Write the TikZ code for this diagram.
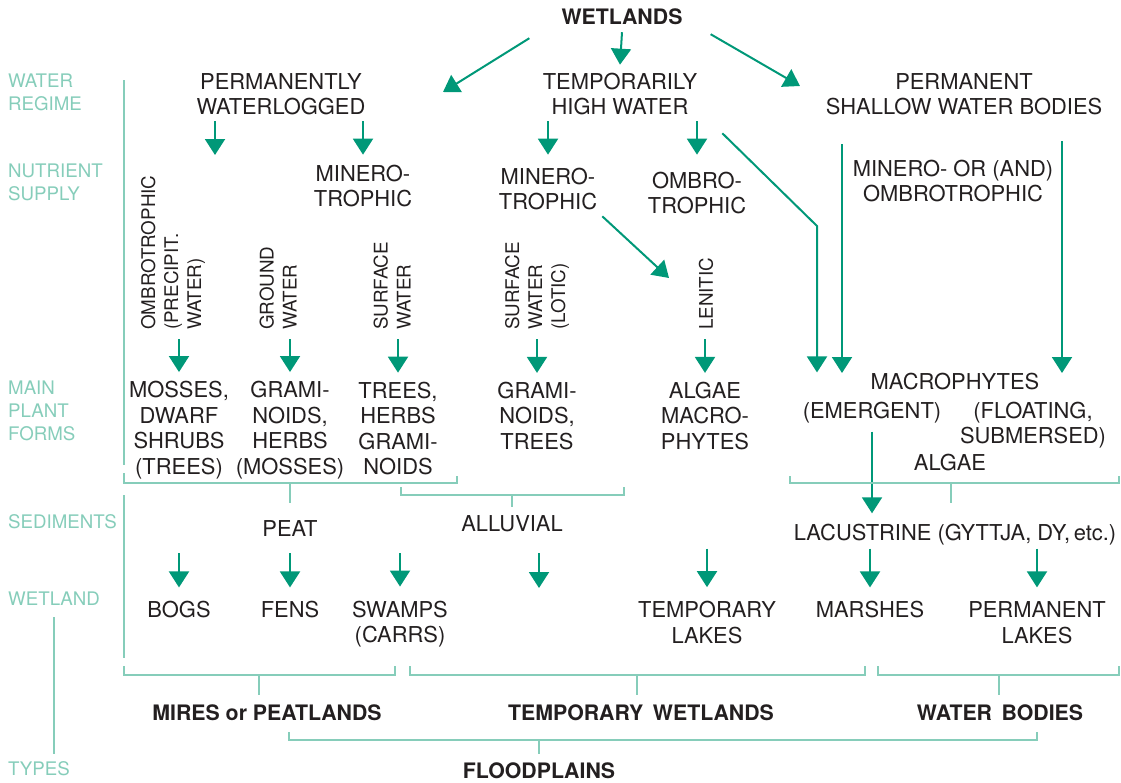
\documentclass[tikz,border=0pt]{standalone}
\usepackage{fontspec}
\setmainfont{TeX Gyre Heros}
\usetikzlibrary{arrows.meta}

\definecolor{flowgreen}{RGB}{0,152,120}
\definecolor{palegreen}{RGB}{134,205,186}
\definecolor{inkblack}{RGB}{35,31,32}

\tikzset{
  lbl/.style={text=inkblack, align=center, inner sep=0pt, font=\fontsize{21.9}{25.5}\selectfont},
  lblv/.style={text=inkblack, align=left, inner sep=0pt, rotate=90, anchor=west, font=\fontsize{18.8}{23}\selectfont},
  grp/.style={text=inkblack, inner sep=0pt, font=\fontsize{21.3}{25.5}\selectfont\bfseries},
  axis/.style={text=palegreen, align=left, inner sep=0pt, anchor=west, font=\fontsize{18.7}{23}\selectfont},
  flow/.style={draw=flowgreen, line width=2pt, -{Triangle[width=20pt,length=16pt]}},
  brace/.style={draw=palegreen, line width=2.2pt},
}

\begin{document}
\begin{tikzpicture}[x=1pt, y=-1pt]
\useasboundingbox (0,0) rectangle (1121,782);

% axis on the left
\node (axreg) at (8,92.5) [axis] {WATER\\REGIME};
\node (axnut) at (8,182.5) [axis] {NUTRIENT\\SUPPLY};
\node (axpla) at (8,411) [axis] {MAIN\\PLANT\\FORMS};
\node (axsed) at (8,522) [axis] {SEDIMENTS};
\node (axwet) at (8,599) [axis] {WETLAND};
\node (axtyp) at (8,769) [axis] {TYPES};
\draw[brace] ([yshift=-11pt]axwet.south) -- ([yshift=8pt]axwet.south |- axtyp.north);

% water regime
\node (wet) at (622,17) [grp] {WETLANDS};
\node (perm) at (281,94) [lbl] {PERMANENTLY\\WATERLOGGED};
\node (temp) at (620,94) [lbl] {TEMPORARILY\\HIGH WATER};
\node (shal) at (964,94) [lbl] {PERMANENT\\SHALLOW WATER BODIES};

% nutrient supply
\node (minA) at (363,186) [lbl] {MINERO-\\TROPHIC};
\node (minB) at (548,189) [lbl] {MINERO-\\TROPHIC};
\node (ombB) at (697,193) [lbl] {OMBRO-\\TROPHIC};
\node (minC) at (953,181) [lbl] {MINERO- OR (AND)\\OMBROTROPHIC};
	\node (precip) at (173,330) [lblv] {OMBROTROPHIC\\(PRECIPIT.\\WATER)};
	\node (ground) at (278,330) [lblv] {GROUND\\WATER};
	\node (surfA) at (392,330) [lblv] {SURFACE\\WATER};
	\node (surfB) at (537,330) [lblv] {SURFACE\\WATER\\(LOTIC)};
	\node (lenit) at (706,330) [lblv] {LENITIC};

% main plant forms
\node (mosses) at (179,430) [lbl] {MOSSES,\\DWARF\\SHRUBS\\(TREES)};
\node (gramA) at (290,430) [lbl] {GRAMI-\\NOIDS,\\HERBS\\(MOSSES)};
\node (trees) at (398,428.5) [lbl] {TREES,\\HERBS\\GRAMI-\\NOIDS};
\node (gramB) at (537,416) [lbl] {GRAMI-\\NOIDS,\\TREES};
\node (algA) at (705,416) [lbl] {ALGAE\\MACRO-\\PHYTES};
\node (macro) at (955,382) [lbl] {MACROPHYTES};
\node (emerg) at (872,413) [lbl] {(EMERGENT)};
\node (float) at (1033,425) [lbl] {(FLOATING,\\SUBMERSED)};
\node (algB) at (950,463) [lbl] {ALGAE};

% sediments
\node (peat) at (290,529) [lbl] {PEAT};
\node (alluv) at (512,524) [lbl] {ALLUVIAL};
\node (lacus) at (955,535) [lbl] {LACUSTRINE (GYTTJA, DY,\,etc.)};

% wetlands
\node (bogs) at (179,610) [lbl] {BOGS};
\node (fens) at (290,610) [lbl] {FENS};
\node (swamps) at (400,624) [lbl] {SWAMPS\\(CARRS)};
\node (tlakes) at (707,622.5) [lbl] {TEMPORARY\\LAKES};
\node (marsh) at (870,610) [lbl] {MARSHES};
\node (plakes) at (1037,622.5) [lbl] {PERMANENT\\LAKES};

% types
\node (mires) at (267,713) [grp] {MIRES or PEATLANDS};
\node (tempw) at (641,713) [grp] {TEMPORARY\hspace{0.45em}WETLANDS};
\node (wbod) at (1000,713) [grp] {WATER\hspace{0.45em}BODIES};
\node (flood) at (539,771) [grp] {FLOODPLAINS};

% free ends
\coordinate (pwtip) at (443,92);
\coordinate (swtip) at (800,86);
\coordinate (ombgrp) at (215,155);
\coordinate (bend) at (817,226);
\coordinate (emtip) at (842,373);
\coordinate (fltip) at (1062,373);
\coordinate (lentip) at (669,278);
\coordinate (alluvtip) at (539,588);

% arrows
\draw[flow] ([yshift=-7pt]wet.south) -- ([yshift=8pt]temp.north);
\draw[flow] ([xshift=-32pt,yshift=-13pt]wet.south west) -- (pwtip);
\draw[flow] ([xshift=28pt,yshift=-9pt]wet.south east) -- (swtip);

\draw[flow] ([yshift=-6pt]perm.south -| ombgrp) -- (ombgrp);
\draw[flow] ([yshift=-6pt]perm.south -| minA) -- ([yshift=10pt]minA.north);
\draw[flow] ([yshift=-6pt]temp.south -| minB) -- ([yshift=13pt]minB.north);
\draw[flow] ([yshift=-6pt]temp.south -| ombB) -- ([yshift=17pt]ombB.north);
\draw[flow] ([xshift=25pt,yshift=-18pt]temp.south east) -- (bend) -- ([yshift=1pt]bend |- macro.north);
\draw[flow] ([yshift=-29pt]shal.south -| emtip) -- (emtip);
\draw[flow] ([yshift=-26pt]shal.south -| fltip) -- (fltip);
\draw[flow] ([xshift=5pt,yshift=-6pt]minB.south east) -- (lentip);

\draw[flow] ([yshift=-9pt]precip.west -| mosses) -- ([yshift=9pt]mosses.north);
\draw[flow] ([yshift=-9pt]ground.west -| gramA) -- ([yshift=9pt]gramA.north);
\draw[flow] ([yshift=-9pt]surfA.west -| trees) -- ([yshift=9pt]trees.north);
\draw[flow] ([yshift=-9pt]surfB.west -| gramB) -- ([yshift=9pt]gramB.north);
\draw[flow] ([yshift=-9pt]lenit.west -| algA) -- ([yshift=9pt]algA.north);

\draw[flow] ([yshift=-8pt]emerg.south) -- ([yshift=11pt]lacus.north -| emerg);

\draw[flow] ([yshift=-16pt]peat.south -| bogs) -- ([yshift=14pt]bogs.north);
\draw[flow] ([yshift=-16pt]peat.south -| fens) -- ([yshift=14pt]fens.north);
\draw[flow] ([yshift=-16pt]peat.south -| swamps) -- ([yshift=14pt]swamps.north);
\draw[flow] ([yshift=-21pt]alluv.south -| alluvtip) -- (alluvtip);
\draw[flow] ([yshift=-3pt]lacus.south -| tlakes) -- ([yshift=14pt]tlakes.north);
\draw[flow] ([yshift=-3pt]lacus.south -| marsh) -- ([yshift=14pt]marsh.north);
\draw[flow] ([yshift=-3pt]lacus.south -| plakes) -- ([yshift=14pt]plakes.north);

% brackets
\draw[brace] (124,80) -- (124,465);
\draw[brace] (124,473) -- (124,483) -- (457,483) -- (457,476);
\draw[brace] (290,483) -- (290,503);
\draw[brace] (401,487) -- (401,495) -- (624,495) -- (624,487);
\draw[brace] (512,495) -- (512,507);
\draw[brace] (790,476) -- (790,483) -- (1119,483) -- (1119,476);
\draw[brace] (951,483) -- (951,503);
\draw[brace] (124,495) -- (124,658);
\draw[brace] (124,666) -- (124,675) -- (395,675) -- (395,666);
\draw[brace] (259,675) -- (259,695);
\draw[brace] (410,666) -- (410,675) -- (865,675) -- (865,666);
\draw[brace] (637,675) -- (637,695);
\draw[brace] (878,666) -- (878,675) -- (1119,675) -- (1119,666);
\draw[brace] (999,675) -- (999,695);
\draw[brace] (289,732) -- (289,740) -- (1037,740) -- (1037,732);
\draw[brace] (539,740) -- (539,754);
\end{tikzpicture}
\end{document}
